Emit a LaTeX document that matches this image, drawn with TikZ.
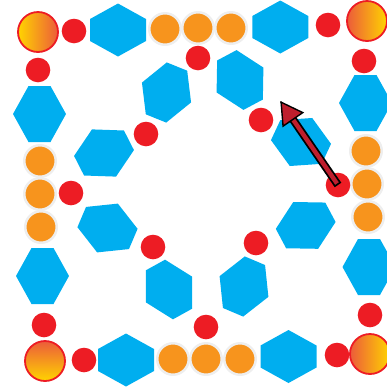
\documentclass[tikz,border=0pt]{standalone}
\usepackage{tikz}
\usetikzlibrary{arrows.meta,calc}
\definecolor{HexBlue}{RGB}{0,174,239}
\definecolor{DotRed}{RGB}{237,28,36}
\definecolor{DotOrange}{RGB}{247,148,29}
\definecolor{RingGray}{RGB}{238,238,238}
\definecolor{CornerYellow}{RGB}{255,212,0}
\definecolor{CornerRust}{RGB}{236,92,58}
\definecolor{ShaftRed}{RGB}{190,30,45}

\begin{document}
\begin{tikzpicture}[
  x=1pt, y=-1pt,
  hexa/.pic={
    \fill[HexBlue] (0,26.5) -- (28,11) -- (28,-11) -- (0,-26.5) -- (-28,-11) -- (-28,11) -- cycle;
  },
  reddot/.style={circle, fill=DotRed, minimum size=24.6pt, inner sep=0pt},
  orangedot/.style={circle, fill=DotOrange, draw=RingGray, line width=2.5pt,
    minimum size=31.5pt, inner sep=0pt},
  cornerdot/.style={circle, draw=DotRed, line width=1.8pt, minimum size=40pt, inner sep=0pt},
  shaftout/.style={line width=8pt, black, line cap=butt, shorten >=17pt},
  shaftin/.style={line width=4.4pt, ShaftRed, line cap=butt, shorten >=17pt, shorten <=1.8pt},
  head/.style={-{Triangle[length=23pt, width=26pt, fill=ShaftRed]}, line width=1.4pt, black}
]
\useasboundingbox (0,0) rectangle (387,392);

% --- Outer ring hexagons
\pic at (118,30)   {hexa};
\pic at (280.3,27) {hexa};
\pic at (126,360)  {hexa};
\pic at (288.5,356.5) {hexa};
\pic[rotate=90] at (39.5,114) {hexa};
\pic[rotate=90] at (42.5,276) {hexa};
\pic[rotate=90] at (365.5,103) {hexa};
\pic[rotate=90] at (369,267) {hexa};

% --- Inner ring hexagons
\pic[rotate=68]  at (166.5,92.5) {hexa};
\pic[rotate=-62] at (240,80)     {hexa};
\pic[rotate=27]  at (104,153)    {hexa};
\pic[rotate=-25] at (301,142)    {hexa};
\pic[rotate=-23] at (107.5,228)  {hexa};
\pic[rotate=28]  at (305.7,225.4) {hexa};
\pic[rotate=-61] at (169,289.5)  {hexa};
\pic[rotate=67]  at (244,286.5)  {hexa};

% --- Orange dots (top, left, right, bottom)
\node[orangedot] (ot1) at (165,29)  {};
\node[orangedot] (ot2) at (198,28)  {};
\node[orangedot] (ot3) at (231,28)  {};
\node[orangedot] (ol1) at (40,161)  {};
\node[orangedot] (ol2) at (40,194)  {};
\node[orangedot] (ol3) at (41,227)  {};
\node[orangedot] (or1) at (366,151) {};
\node[orangedot] (or2) at (367,184) {};
\node[orangedot] (or3) at (368,217) {};
\node[orangedot] (ob1) at (173,359) {};
\node[orangedot] (ob2) at (206,359) {};
\node[orangedot] (ob3) at (240,359) {};

% --- Red dots
\node[reddot] (rd1)  at (74,31)   {};
\node[reddot] (rd2)  at (198,58)  {};
\node[reddot] (rd3)  at (328,25)  {};
\node[reddot] (rd4)  at (38,70)   {};
\node[reddot] (rd5)  at (364,61)  {};
\node[reddot] (rd6)  at (146,134) {};
\node[reddot] (rd7)  at (261,120) {};
\node[reddot] (rd8)  at (71,193)  {};
\node[reddot] (rd9)  at (338,185) {};
\node[reddot] (rd10) at (153,247) {};
\node[reddot] (rd11) at (256,243) {};
\node[reddot] (rd12) at (44,325)  {};
\node[reddot] (rd13) at (370,315) {};
\node[reddot] (rd14) at (206,327) {};
\node[reddot] (rd15) at (84,360)  {};
\node[reddot] (rd16) at (337,355) {};

% --- Corner dots
\node[cornerdot, left color=CornerYellow, right color=CornerRust]  (ctl) at (38,32)  {};
\node[cornerdot, left color=CornerRust, right color=CornerYellow]  (ctr) at (367,21) {};
\node[cornerdot, top color=CornerRust, bottom color=CornerYellow]  (cbl) at (45,361) {};
\node[cornerdot, left color=CornerRust, right color=CornerYellow]  (cbr) at (370,354) {};

% --- Arrow
\coordinate (tip) at (280.3,101);
\draw[shaftout] (rd9.center) -- (tip);
\draw[shaftin]  (rd9.center) -- (tip);
\draw[head] ($(tip)!1pt!(rd9.center)$) -- (tip);

\end{tikzpicture}
\end{document}
